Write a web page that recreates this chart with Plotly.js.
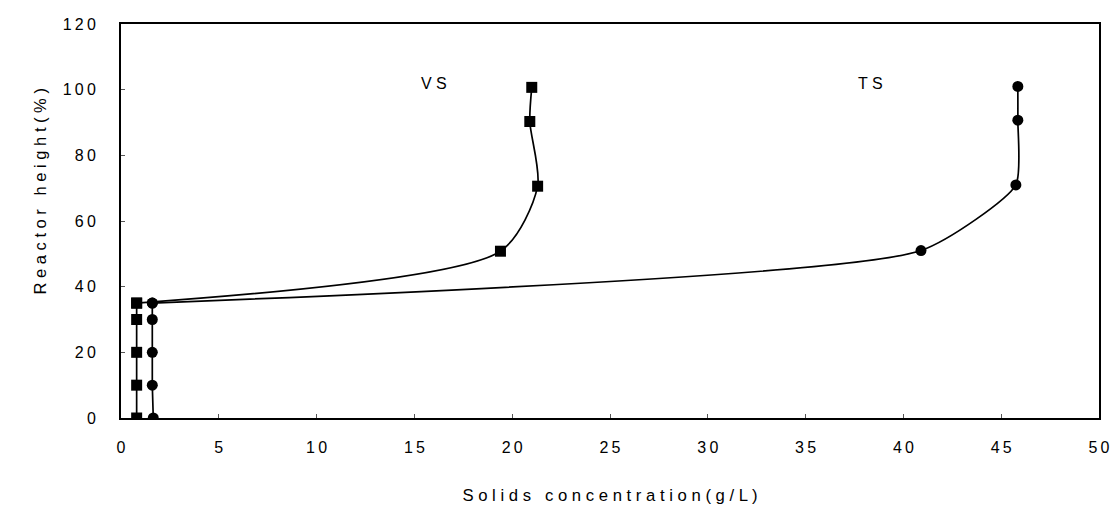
<!DOCTYPE html>
<html><head><meta charset="utf-8">
<script src="https://cdn.plot.ly/plotly-3.0.1.min.js"></script>
<style>body{margin:0;background:#fff}#c{width:1115px;height:510px}</style>
</head><body><div id="c"></div>
<script>
const vsX = [0.8, 0.8, 0.8, 0.8, 0.8, 19.4, 21.3, 20.9, 21.0];
const vsY = [0, 10, 20, 30, 35, 50.8, 70.6, 90.3, 100.7];
const tsX = [1.65, 1.6, 1.6, 1.6, 1.6, 40.9, 45.75, 45.85, 45.85];
const tsY = [0, 10, 20, 30, 35, 51, 71, 90.7, 101];
const xTicks = [0, 5, 10, 15, 20, 25, 30, 35, 40, 45, 50];
const yTicks = [0, 20, 40, 60, 80, 100, 120];
const labels = [{text: 'V S', x: 16.0, y: 102}, {text: 'T S', x: 38.3, y: 102}];
const xTitle = 'Solids concentration(g/L)';
const yTitle = 'Reactor height(%)';

const FAM = 'Liberation Sans, Arial, sans-serif';
const font = {family: FAM, color: '#000', size: 16};
const spaced = (s, sp) => s.split('').join(sp);
const THIN = '\u2009';

// bottom (linear) part: indices 0..4, upper (smooth) part: 4..end
const split = 4;
function parts(xs, ys, sym, sm) {
  return [
    {x: xs.slice(0, split + 1), y: ys.slice(0, split + 1), mode: 'lines+markers',
     line: {color: '#000', width: 1.7}, marker: {symbol: sym, size: 11, color: '#000'}},
    {x: xs.slice(split), y: ys.slice(split), mode: 'lines+markers',
     line: {color: '#000', width: 1.7, shape: 'spline', smoothing: sm},
     marker: {symbol: sym, size: 11, color: '#000'}}
  ];
}
const traces = [...parts(vsX, vsY, 'square', 0.75), ...parts(tsX, tsY, 'circle', 0.55)];

const layout = {
  width: 1115, height: 510,
  margin: {l: 121, r: 16, t: 24, b: 92},
  paper_bgcolor: '#fff', plot_bgcolor: '#fff',
  showlegend: false,
  font: font,
  xaxis: {range: [0, 50], tickvals: xTicks, ticktext: xTicks.map(v => spaced(String(v), THIN)),
    showgrid: false, zeroline: false, showline: true, linecolor: '#000', linewidth: 2, mirror: true,
    ticks: 'inside', ticklen: 4, tickcolor: '#555', tickfont: font, ticklabelstandoff: 14,
    title: {text: spaced(xTitle, ' '), font: {family: FAM, size: 16.7, color: '#000'}, standoff: 34}},
  yaxis: {range: [0, 120], tickvals: yTicks, ticktext: yTicks.map(v => spaced(String(v), THIN)),
    showgrid: false, zeroline: false, showline: true, linecolor: '#000', linewidth: 2, mirror: true,
    ticks: 'inside', ticklen: 4, tickcolor: '#555', tickfont: font, ticklabelstandoff: 20},
  annotations: [
    ...labels.map(l => ({x: l.x, y: l.y, xref: 'x', yref: 'y', text: l.text, showarrow: false,
      font: {family: FAM, size: 16, color: '#000'}})),
    {x: 0, xref: 'paper', xanchor: 'center', xshift: -81, y: 69, yref: 'y', yanchor: 'middle',
     textangle: -90, text: spaced(yTitle, ' '), showarrow: false,
     font: {family: FAM, size: 16.5, color: '#000'}}
  ]
};
Plotly.newPlot('c', traces, layout, {displayModeBar: false, staticPlot: true});
</script></body></html>
